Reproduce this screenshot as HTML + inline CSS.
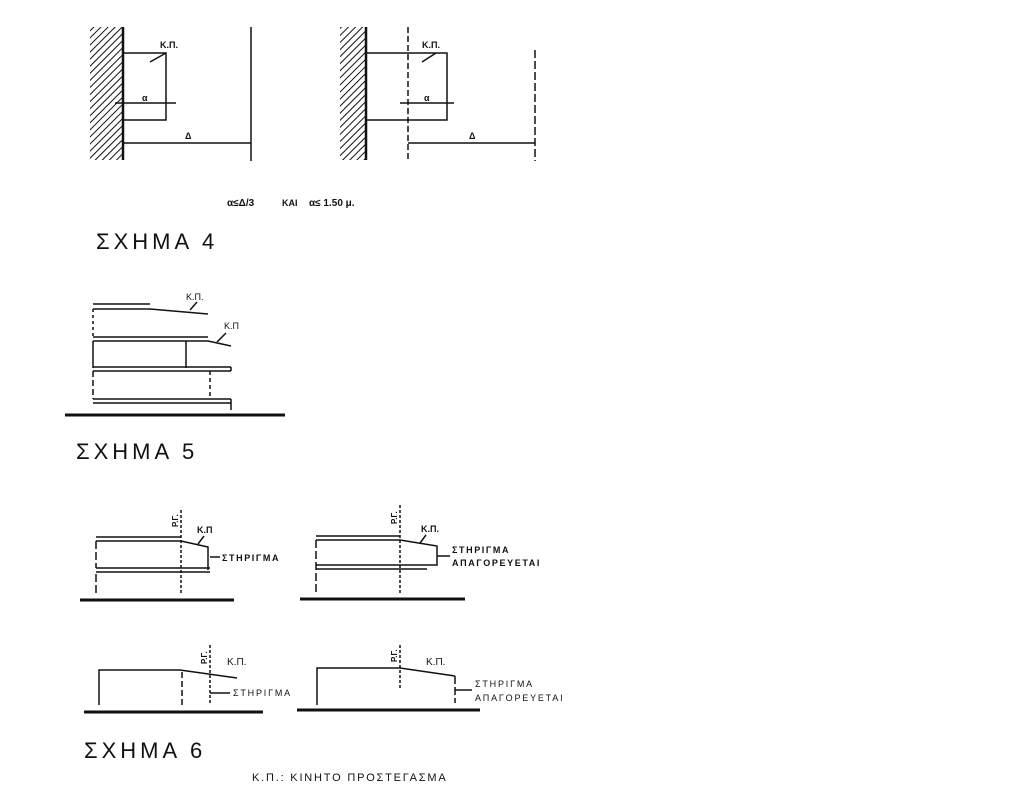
<!DOCTYPE html>
<html><head><meta charset="utf-8"><style>
html,body{margin:0;padding:0;background:#fff}
svg{display:block}
text{font-family:"Liberation Sans","DejaVu Sans",sans-serif;fill:#111}
.b{font-weight:bold;font-size:9px}
.t{font-size:22px;letter-spacing:4px}
.s{font-size:9px;font-weight:bold;letter-spacing:1.6px}
.n{font-size:9px;letter-spacing:1.8px}
</style></head><body>
<svg width="1022" height="794" viewBox="0 0 1022 794" xmlns="http://www.w3.org/2000/svg">
<defs>
<pattern id="h" width="5" height="5" patternUnits="userSpaceOnUse" patternTransform="rotate(45)">
<rect width="5" height="5" fill="#fff"/><line x1="0" y1="0" x2="0" y2="5" stroke="#111" stroke-width="2"/>
</pattern>
</defs>
<g stroke="#111" fill="none" stroke-width="1.5">
<rect x="90" y="27" width="33" height="133" fill="url(#h)" stroke="none"/>
<line x1="123" y1="27" x2="123" y2="160" stroke-width="2.5"/>
<polyline points="123,53 166,53 166,120 123,120"/>
<line x1="115" y1="103" x2="176" y2="103"/>
<line x1="150" y1="62" x2="166" y2="53"/>
<line x1="123" y1="143" x2="251" y2="143"/>
<line x1="251" y1="27" x2="251" y2="161"/>
<rect x="340" y="27" width="26" height="133" fill="url(#h)" stroke="none"/>
<line x1="366" y1="27" x2="366" y2="160" stroke-width="2.5"/>
<polyline points="366,53 447,53 447,120 366,120"/>
<line x1="408" y1="27" x2="408" y2="161" stroke-dasharray="6,3"/>
<line x1="400" y1="103" x2="454" y2="103"/>
<line x1="422" y1="62" x2="436" y2="53"/>
<line x1="408" y1="143" x2="535" y2="143"/>
<line x1="535" y1="50" x2="535" y2="161" stroke-dasharray="8,3"/>
<line x1="93" y1="304" x2="150" y2="304"/>
<polyline points="93,309 150,309 208,314"/>
<line x1="93" y1="309" x2="93" y2="336" stroke-dasharray="3,3"/>
<line x1="93" y1="337" x2="208" y2="337"/>
<polyline points="93,341 208,341 231,346"/>
<line x1="93" y1="341" x2="93" y2="368"/>
<line x1="186" y1="341" x2="186" y2="368"/>
<line x1="93" y1="367" x2="231" y2="367"/>
<line x1="93" y1="371" x2="231" y2="371"/>
<line x1="231" y1="367" x2="231" y2="371"/>
<line x1="93" y1="371" x2="93" y2="399" stroke-dasharray="6,3"/>
<line x1="210" y1="371" x2="210" y2="399" stroke-dasharray="4,3"/>
<line x1="93" y1="399" x2="231" y2="399"/>
<line x1="93" y1="403" x2="231" y2="403"/>
<line x1="231" y1="399" x2="231" y2="410"/>
<line x1="65" y1="415" x2="285" y2="415" stroke-width="3"/>
<line x1="190" y1="310" x2="197" y2="302"/>
<line x1="217" y1="342" x2="226" y2="333"/>
<line x1="96" y1="537" x2="181" y2="537"/>
<polyline points="96,541 181,541 208,547 208,570"/>
<line x1="96" y1="568" x2="210" y2="568"/>
<line x1="96" y1="572" x2="210" y2="572"/>
<line x1="96" y1="541" x2="96" y2="568" stroke-dasharray="8,3"/>
<line x1="96" y1="574" x2="96" y2="595" stroke-dasharray="8,3"/>
<line x1="181" y1="510" x2="181" y2="595" stroke-dasharray="3,2"/>
<line x1="80" y1="600" x2="234" y2="600" stroke-width="3"/>
<line x1="210" y1="557" x2="220" y2="557"/>
<line x1="198" y1="544" x2="204" y2="536"/>
<line x1="316" y1="536" x2="400" y2="536"/>
<polyline points="316,540 400,540 437,546 437,565 316,565"/>
<line x1="316" y1="569" x2="427" y2="569"/>
<line x1="316" y1="540" x2="316" y2="595" stroke-dasharray="8,3"/>
<line x1="400" y1="505" x2="400" y2="595" stroke-dasharray="3,2"/>
<line x1="300" y1="599" x2="465" y2="599" stroke-width="3"/>
<line x1="437" y1="556" x2="450" y2="556"/>
<line x1="420" y1="543" x2="426" y2="535"/>
<polyline points="99,705 99,670 180,670 237,678"/>
<line x1="182" y1="672" x2="182" y2="705" stroke-dasharray="6,3"/>
<line x1="210" y1="645" x2="210" y2="705" stroke-dasharray="3,2"/>
<line x1="210" y1="693" x2="230" y2="693"/>
<line x1="84" y1="712" x2="263" y2="712" stroke-width="3"/>
<polyline points="317,705 317,668 400,668 455,676"/>
<line x1="455" y1="676" x2="455" y2="703" stroke-dasharray="8,3"/>
<line x1="400" y1="645" x2="400" y2="690" stroke-dasharray="3,2"/>
<line x1="455" y1="690" x2="472" y2="690"/>
<line x1="297" y1="710" x2="480" y2="710" stroke-width="3"/>
</g>
<g>
<text class="b" x="160" y="48">K.Π.</text>
<text class="b" x="142" y="101">α</text>
<text class="b" x="185" y="139">Δ</text>
<text class="b" x="422" y="48">K.Π.</text>
<text class="b" x="424" y="101">α</text>
<text class="b" x="469" y="139">Δ</text>
<text x="227" y="206" style="font-size:10px;font-weight:bold">α≤Δ/3</text>
<text x="282" y="206" style="font-size:9px;font-weight:bold">KAI</text>
<text x="309" y="206" style="font-size:10px;font-weight:bold">α≤ 1.50 μ.</text>
<text class="t" x="96" y="249">ΣΧΗΜΑ 4</text>
<text x="186" y="300" style="font-size:9px">K.Π.</text>
<text x="224" y="329" style="font-size:9px">K.Π</text>
<text class="t" x="76" y="459">ΣΧΗΜΑ 5</text>
<text class="b" x="197" y="533">K.Π</text>
<text class="s" x="222" y="561">ΣΤΗΡΙΓΜΑ</text>
<text class="b" x="421" y="532">K.Π.</text>
<text class="s" x="452" y="553">ΣΤΗΡΙΓΜΑ</text>
<text class="s" x="452" y="566">ΑΠΑΓΟΡΕΥΕΤΑΙ</text>
<text x="227" y="665" style="font-size:10px">K.Π.</text>
<text class="n" x="233" y="696">ΣΤΗΡΙΓΜΑ</text>
<text x="426" y="665" style="font-size:10px">K.Π.</text>
<text class="n" x="475" y="687">ΣΤΗΡΙΓΜΑ</text>
<text class="n" x="475" y="701">ΑΠΑΓΟΡΕΥΕΤΑΙ</text>
<text transform="translate(178,527) rotate(-90)" style="font-size:8px;font-weight:bold">Ρ.Γ.</text>
<text transform="translate(397,524) rotate(-90)" style="font-size:8px;font-weight:bold">Ρ.Γ.</text>
<text transform="translate(207,664) rotate(-90)" style="font-size:8px;font-weight:bold">Ρ.Γ.</text>
<text transform="translate(397,662) rotate(-90)" style="font-size:8px;font-weight:bold">Ρ.Γ.</text>
<text class="t" x="84" y="758">ΣΧΗΜΑ 6</text>
<text x="252" y="781" style="font-size:11px;letter-spacing:1.8px">Κ.Π.: ΚΙΝΗΤΟ ΠΡΟΣΤΕΓΑΣΜΑ</text>
</g>
</svg>
</body></html>
